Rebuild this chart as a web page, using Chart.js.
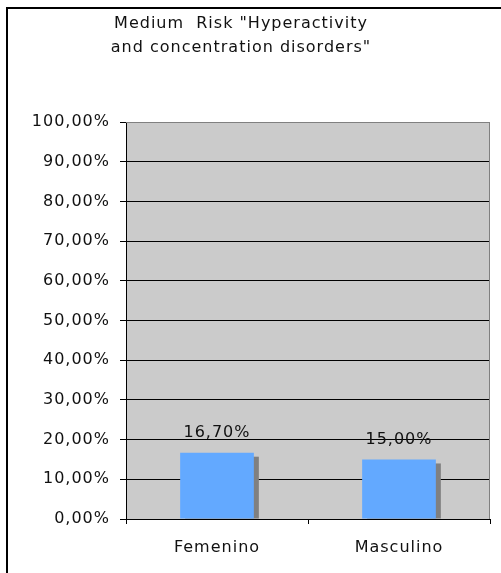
<!DOCTYPE html>
<html>
<head>
<meta charset="utf-8">
<script src="https://cdn.jsdelivr.net/npm/chart.js@4.4.1/dist/chart.umd.min.js"></script>
<style>
  html, body { margin: 0; padding: 0; background: #ffffff; }
  #wrap { width: 501px; height: 573px; position: relative; }
</style>
</head>
<body>
<div id="wrap"><canvas id="c" width="501" height="573"></canvas></div>
<script>
// Chart content
const titleLines = ['Medium  Risk "Hyperactivity', 'and concentration disorders"'];
const categories = ['Femenino', 'Masculino'];
const shares = [0.167, 0.15];          // fraction of respondents at medium risk
const yTicks = [0, 0.1, 0.2, 0.3, 0.4, 0.5, 0.6, 0.7, 0.8, 0.9, 1.0];

const FONT = 'DejaVu Sans, Verdana, sans-serif';
const SPACING = '1px';
const fmtPct = v => (v * 100).toFixed(2).replace('.', ',') + '%';

// Frame, title, shadows behind the bars and value labels
const decorations = {
  id: 'decorations',
  beforeDraw(chart) {
    const ctx = chart.ctx;
    const a = chart.chartArea;
    // wide-set lettering for every text drawn on this canvas
    ctx.letterSpacing = SPACING;
    ctx.save();
    // plot background
    ctx.fillStyle = '#cbcbcb';
    ctx.fillRect(a.left, a.top, a.right - a.left, a.bottom - a.top);
    // outer frame (top and left edges)
    ctx.fillStyle = '#000000';
    ctx.fillRect(6, 7, chart.width - 6, 2);
    ctx.fillRect(6, 7, 2, chart.height - 7);
    // title
    ctx.fillStyle = '#111111';
    ctx.font = '16px ' + FONT;
    ctx.textAlign = 'center';
    ctx.textBaseline = 'middle';
    titleLines.forEach((t, i) => ctx.fillText(t, 241, 24 + i * 24));
    ctx.restore();
  },
  beforeDatasetsDraw(chart) {
    const ctx = chart.ctx;
    const a = chart.chartArea;
    ctx.save();
    // plot border on the right and top
    ctx.strokeStyle = '#808080';
    ctx.lineWidth = 1;
    ctx.beginPath();
    ctx.moveTo(a.left, a.top + 0.5);
    ctx.lineTo(a.right - 0.5, a.top + 0.5);
    ctx.lineTo(a.right - 0.5, a.bottom);
    ctx.stroke();
    // drop shadow of each bar
    ctx.fillStyle = '#808080';
    chart.getDatasetMeta(0).data.forEach(bar => {
      const w = bar.width;
      const x = bar.x - w / 2 + 5;
      const y = bar.y + 4;
      ctx.fillRect(x, y, w, bar.base - y);
    });
    ctx.restore();
  },
  afterDatasetsDraw(chart) {
    const ctx = chart.ctx;
    ctx.save();
    ctx.fillStyle = '#111111';
    ctx.font = '16px ' + FONT;
    ctx.textAlign = 'center';
    ctx.textBaseline = 'middle';
    chart.getDatasetMeta(0).data.forEach((bar, i) => {
      ctx.fillText(fmtPct(shares[i]), bar.x, bar.y - 20);
    });
    ctx.restore();
  }
};

new Chart(document.getElementById('c'), {
  type: 'bar',
  data: {
    labels: categories,
    datasets: [{
      data: shares,
      backgroundColor: '#63a9ff',
      borderWidth: 0,
      categoryPercentage: 1.0,
      barPercentage: 0.405
    }]
  },
  options: {
    responsive: false,
    animation: false,
    devicePixelRatio: 1,
    layout: { padding: { top: 122, right: 11, bottom: 0, left: 0 } },
    plugins: {
      legend: { display: false },
      title: { display: false },
      tooltip: { enabled: false }
    },
    scales: {
      y: {
        min: 0,
        max: 1,
        afterFit(scale) { scale.width = 126; },
        afterBuildTicks(scale) { scale.ticks = yTicks.map(v => ({ value: v })); },
        ticks: {
          callback: v => fmtPct(v),
          color: '#111111',
          font: { family: FONT, size: 16 },
          padding: 10
        },
        grid: {
          color: ctx => (ctx.tick && ctx.tick.value === 1 ? '#808080' : '#000000'),
          lineWidth: 1,
          tickLength: 6,
          tickColor: '#000000'
        },
        border: { color: '#000000', width: 1 }
      },
      x: {
        afterFit(scale) { scale.height = 54; },
        ticks: {
          color: '#111111',
          font: { family: FONT, size: 16 },
          padding: 14
        },
        grid: {
          offset: true,
          drawOnChartArea: false,
          tickLength: 5,
          tickColor: '#000000'
        },
        border: { color: '#000000', width: 1 }
      }
    }
  },
  plugins: [decorations]
});
</script>
</body>
</html>
